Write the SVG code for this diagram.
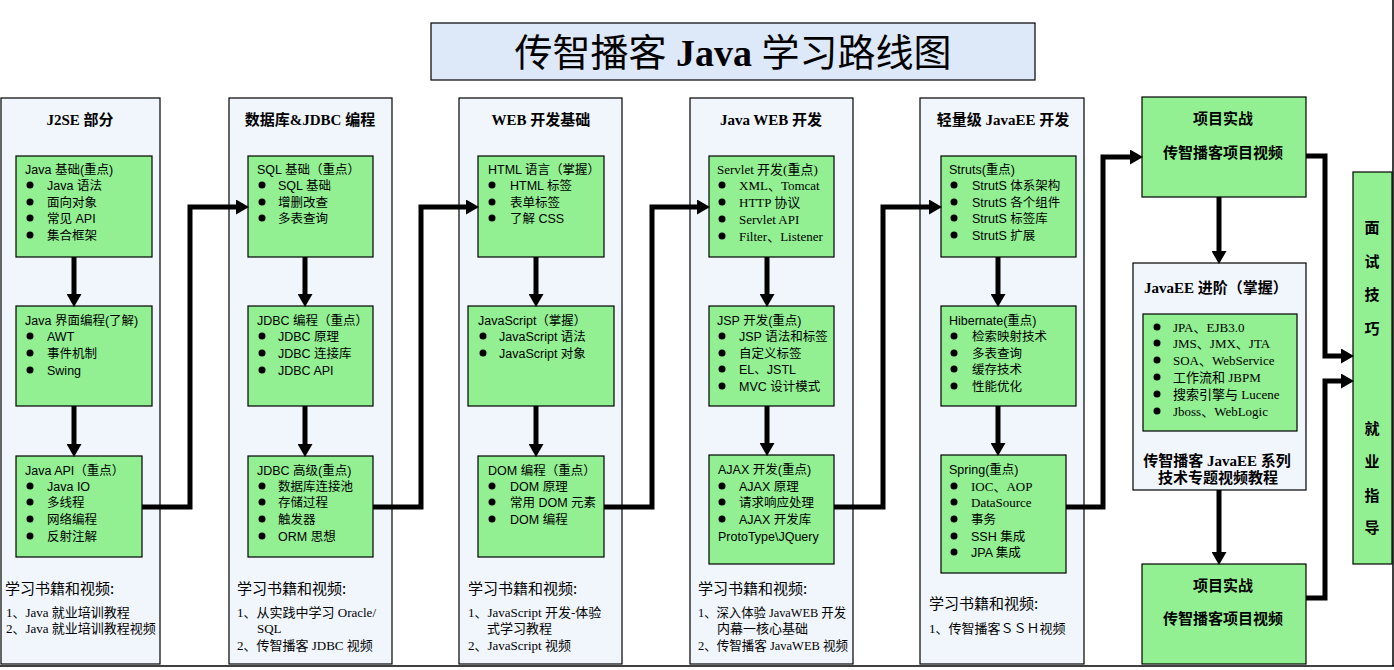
<svg xmlns="http://www.w3.org/2000/svg" width="1394" height="670" viewBox="0 0 1394 670">
<style>
.panel{fill:#f1f6fd;stroke:#000;stroke-width:1.2}
.box{fill:#92ef92;stroke:#000;stroke-width:1.2}
.t{font-family:"Liberation Sans","Noto Sans CJK SC",sans-serif;font-size:12.5px;fill:#000}
.sf{font-family:"Liberation Serif","Noto Sans CJK SC",serif;font-size:13px;fill:#000}
.h{font-family:"Liberation Serif","Noto Sans CJK SC",serif;font-size:15px;font-weight:bold;fill:#000}
.lh{font-family:"Noto Sans CJK SC",sans-serif;font-size:15px;fill:#000}
.li{font-family:"Liberation Serif","Noto Sans CJK SC",serif;font-size:13px;fill:#000}
.b{font-family:"Liberation Serif","Noto Sans CJK SC",serif;font-size:15px;font-weight:bold;fill:#000}
.con{fill:none;stroke:#000;stroke-width:5;stroke-linejoin:miter}
.dot{fill:#000}
</style>
<defs>
<marker id="ah" markerUnits="userSpaceOnUse" markerWidth="13" markerHeight="15" viewBox="0 -7.5 13 15" refX="0" refY="0" orient="auto">
<path d="M0,-7.5 L13,0 L0,7.5 z" fill="#000"/>
</marker>
</defs>
<rect width="1394" height="670" fill="#fff"/>
<line x1="0" y1="666" x2="1394" y2="666" stroke="#000" stroke-width="1.5"/>
<line x1="1393" y1="0" x2="1393" y2="666" stroke="#000" stroke-width="1.5"/>

<g id="title">
<rect x="431" y="23" width="604" height="57" fill="#dde8f8" stroke="#000" stroke-width="1.2"/>
<text x="733" y="66" text-anchor="middle" font-family="Liberation Serif,Noto Sans CJK SC,serif" font-size="38"><tspan font-weight="normal">传智播客 </tspan><tspan font-weight="bold">Java</tspan><tspan font-weight="normal"> 学习路线图</tspan></text>
</g>

<!-- Column 1 -->
<g id="col1">
<rect class="panel" x="1" y="98" width="159" height="566"/>
<text class="h" x="80" y="125" text-anchor="middle">J2SE 部分</text>
<text class="lh" x="5" y="594">学习书籍和视频:</text>
<text class="li" x="6" y="617">1、Java 就业培训教程</text>
<text class="li" x="6" y="633">2、Java 就业培训教程视频</text>
</g>
<g id="c1b1">
<rect class="box" x="16" y="156" width="136" height="101"/>
<text class="t" x="25" y="174">Java 基础(重点)</text>
<circle class="dot" cx="30" cy="185" r="3.5"/><text class="t" x="47" y="190">Java 语法</text>
<circle class="dot" cx="30" cy="202" r="3.5"/><text class="t" x="47" y="207">面向对象</text>
<circle class="dot" cx="30" cy="218" r="3.5"/><text class="t" x="47" y="223">常见 API</text>
<circle class="dot" cx="30" cy="235" r="3.5"/><text class="t" x="47" y="240">集合框架</text>
</g>
<g id="c1b2">
<rect class="box" x="16" y="306" width="136" height="100"/>
<text class="t" x="25" y="325">Java 界面编程(了解)</text>
<circle class="dot" cx="30" cy="336" r="3.5"/><text class="t" x="47" y="341">AWT</text>
<circle class="dot" cx="30" cy="353" r="3.5"/><text class="t" x="47" y="358">事件机制</text>
<circle class="dot" cx="30" cy="370" r="3.5"/><text class="t" x="47" y="375">Swing</text>
</g>
<g id="c1b3">
<rect class="box" x="16" y="456" width="126" height="101"/>
<text class="t" x="25" y="475">Java API（重点）</text>
<circle class="dot" cx="30" cy="486" r="3.5"/><text class="t" x="47" y="491">Java IO</text>
<circle class="dot" cx="30" cy="502" r="3.5"/><text class="t" x="47" y="507">多线程</text>
<circle class="dot" cx="30" cy="519" r="3.5"/><text class="t" x="47" y="524">网络编程</text>
<circle class="dot" cx="30" cy="536" r="3.5"/><text class="t" x="47" y="541">反射注解</text>
</g>

<!-- Column 2 -->
<g id="col2">
<rect class="panel" x="229" y="98" width="163" height="566"/>
<text class="h" x="310" y="125" text-anchor="middle">数据库&amp;JDBC 编程</text>
<text class="lh" x="237" y="594">学习书籍和视频:</text>
<text class="li" x="237" y="617">1、从实践中学习 Oracle/</text>
<text class="li" x="257" y="633">SQL</text>
<text class="li" x="237" y="650">2、传智播客 JDBC 视频</text>
</g>
<g id="c2b1">
<rect class="box" x="248" y="156" width="125" height="101"/>
<text class="t" x="257" y="174">SQL 基础（重点）</text>
<circle class="dot" cx="262" cy="185" r="3.5"/><text class="t" x="278" y="190">SQL 基础</text>
<circle class="dot" cx="262" cy="202" r="3.5"/><text class="t" x="278" y="207">增删改查</text>
<circle class="dot" cx="262" cy="218" r="3.5"/><text class="t" x="278" y="223">多表查询</text>
</g>
<g id="c2b2">
<rect class="box" x="248" y="306" width="125" height="100"/>
<text class="t" x="257" y="325">JDBC 编程（重点）</text>
<circle class="dot" cx="262" cy="336" r="3.5"/><text class="t" x="278" y="341">JDBC 原理</text>
<circle class="dot" cx="262" cy="353" r="3.5"/><text class="t" x="278" y="358">JDBC 连接库</text>
<circle class="dot" cx="262" cy="370" r="3.5"/><text class="t" x="278" y="375">JDBC API</text>
</g>
<g id="c2b3">
<rect class="box" x="248" y="456" width="125" height="101"/>
<text class="t" x="257" y="475">JDBC 高级(重点)</text>
<circle class="dot" cx="262" cy="486" r="3.5"/><text class="t" x="278" y="491">数据库连接池</text>
<circle class="dot" cx="262" cy="502" r="3.5"/><text class="t" x="278" y="507">存储过程</text>
<circle class="dot" cx="262" cy="519" r="3.5"/><text class="t" x="278" y="524">触发器</text>
<circle class="dot" cx="262" cy="536" r="3.5"/><text class="t" x="278" y="541">ORM 思想</text>
</g>

<!-- Column 3 -->
<g id="col3">
<rect class="panel" x="459" y="98" width="163" height="566"/>
<text class="h" x="541" y="125" text-anchor="middle">WEB 开发基础</text>
<text class="lh" x="468" y="594">学习书籍和视频:</text>
<text class="li" x="468" y="617">1、JavaScript 开发-体验</text>
<text class="li" x="487" y="633">式学习教程</text>
<text class="li" x="468" y="650">2、JavaScript 视频</text>
</g>
<g id="c3b1">
<rect class="box" x="478" y="156" width="126" height="101"/>
<text class="t" x="488" y="174">HTML 语言（掌握）</text>
<circle class="dot" cx="492" cy="185" r="3.5"/><text class="t" x="510" y="190">HTML 标签</text>
<circle class="dot" cx="492" cy="202" r="3.5"/><text class="t" x="510" y="207">表单标签</text>
<circle class="dot" cx="492" cy="218" r="3.5"/><text class="t" x="510" y="223">了解 CSS</text>
</g>
<g id="c3b2">
<rect class="box" x="468" y="306" width="146" height="100"/>
<text class="t" x="478" y="325">JavaScript（掌握）</text>
<circle class="dot" cx="483" cy="336" r="3.5"/><text class="t" x="499" y="341">JavaScript 语法</text>
<circle class="dot" cx="483" cy="353" r="3.5"/><text class="t" x="499" y="358">JavaScript 对象</text>
</g>
<g id="c3b3">
<rect class="box" x="478" y="456" width="126" height="101"/>
<text class="t" x="488" y="475">DOM 编程（重点）</text>
<circle class="dot" cx="492" cy="486" r="3.5"/><text class="t" x="510" y="491">DOM 原理</text>
<circle class="dot" cx="492" cy="502" r="3.5"/><text class="t" x="510" y="507">常用 DOM 元素</text>
<circle class="dot" cx="492" cy="519" r="3.5"/><text class="t" x="510" y="524">DOM 编程</text>
</g>

<!-- Column 4 -->
<g id="col4">
<rect class="panel" x="690" y="98" width="163" height="566"/>
<text class="h" x="771" y="125" text-anchor="middle">Java WEB 开发</text>
<text class="lh" x="698" y="594">学习书籍和视频:</text>
<text class="li" x="698" y="617" textLength="148" lengthAdjust="spacingAndGlyphs">1、深入体验 JavaWEB 开发</text>
<text class="li" x="717" y="633">内幕一核心基础</text>
<text class="li" x="698" y="650" textLength="150" lengthAdjust="spacingAndGlyphs">2、传智播客 JavaWEB 视频</text>
</g>
<g id="c4b1">
<rect class="box" x="709" y="156" width="125" height="101"/>
<text class="sf" x="717" y="174">Servlet 开发(重点)</text>
<circle class="dot" cx="722" cy="185" r="3.5"/><text class="sf" x="739" y="190">XML、Tomcat</text>
<circle class="dot" cx="722" cy="202" r="3.5"/><text class="sf" x="739" y="207">HTTP 协议</text>
<circle class="dot" cx="722" cy="219" r="3.5"/><text class="sf" x="739" y="224">Servlet API</text>
<circle class="dot" cx="722" cy="236" r="3.5"/><text class="sf" x="739" y="241">Filter、Listener</text>
</g>
<g id="c4b2">
<rect class="box" x="709" y="306" width="125" height="100"/>
<text class="t" x="717" y="325">JSP 开发(重点)</text>
<circle class="dot" cx="722" cy="336" r="3.5"/><text class="t" x="739" y="341">JSP 语法和标签</text>
<circle class="dot" cx="722" cy="353" r="3.5"/><text class="t" x="739" y="358">自定义标签</text>
<circle class="dot" cx="722" cy="369" r="3.5"/><text class="t" x="739" y="374">EL、JSTL</text>
<circle class="dot" cx="722" cy="386" r="3.5"/><text class="t" x="739" y="391">MVC 设计模式</text>
</g>
<g id="c4b3">
<rect class="box" x="709" y="455" width="125" height="109"/>
<text class="t" x="718" y="474">AJAX 开发(重点)</text>
<circle class="dot" cx="722" cy="486" r="3.5"/><text class="t" x="739" y="491">AJAX 原理</text>
<circle class="dot" cx="722" cy="502" r="3.5"/><text class="t" x="739" y="507">请求响应处理</text>
<circle class="dot" cx="722" cy="519" r="3.5"/><text class="t" x="739" y="524">AJAX 开发库</text>
<text class="t" x="718" y="541">ProtoType\JQuery</text>
</g>

<!-- Column 5 -->
<g id="col5">
<rect class="panel" x="920" y="98" width="164" height="566"/>
<text class="h" x="1003" y="125" text-anchor="middle">轻量级 JavaEE 开发</text>
<text class="lh" x="929" y="609">学习书籍和视频:</text>
<text class="li" x="929" y="633">1、传智播客ＳＳＨ视频</text>
</g>
<g id="c5b1">
<rect class="box" x="941" y="156" width="135" height="101"/>
<text class="t" x="949" y="174">Struts(重点)</text>
<circle class="dot" cx="954" cy="185" r="3.5"/><text class="t" x="972" y="190">StrutS 体系架构</text>
<circle class="dot" cx="954" cy="202" r="3.5"/><text class="t" x="972" y="207">StrutS 各个组件</text>
<circle class="dot" cx="954" cy="218" r="3.5"/><text class="t" x="972" y="223">StrutS 标签库</text>
<circle class="dot" cx="954" cy="235" r="3.5"/><text class="t" x="972" y="240">StrutS 扩展</text>
</g>
<g id="c5b2">
<rect class="box" x="941" y="306" width="135" height="100"/>
<text class="t" x="949" y="325">Hibernate(重点)</text>
<circle class="dot" cx="954" cy="336" r="3.5"/><text class="t" x="972" y="341">检索映射技术</text>
<circle class="dot" cx="954" cy="353" r="3.5"/><text class="t" x="972" y="358">多表查询</text>
<circle class="dot" cx="954" cy="369" r="3.5"/><text class="t" x="972" y="374">缓存技术</text>
<circle class="dot" cx="954" cy="386" r="3.5"/><text class="t" x="972" y="391">性能优化</text>
</g>
<g id="c5b3">
<rect class="box" x="941" y="455" width="125" height="118"/>
<text class="t" x="949" y="474">Spring(重点)</text>
<circle class="dot" cx="954" cy="486" r="3.5"/><text class="sf" x="971" y="491">IOC、AOP</text>
<circle class="dot" cx="954" cy="502" r="3.5"/><text class="sf" x="971" y="507">DataSource</text>
<circle class="dot" cx="954" cy="519" r="3.5"/><text class="t" x="971" y="524">事务</text>
<circle class="dot" cx="954" cy="536" r="3.5"/><text class="t" x="971" y="541">SSH 集成</text>
<circle class="dot" cx="954" cy="552" r="3.5"/><text class="t" x="971" y="557">JPA 集成</text>
</g>

<!-- Column 6 -->
<g id="proj1">
<rect class="box" x="1142" y="97" width="164" height="100"/>
<text class="b" x="1223" y="124" text-anchor="middle">项目实战</text>
<text class="b" x="1223" y="158" text-anchor="middle">传智播客项目视频</text>
</g>
<g id="javaee">
<rect class="panel" x="1133" y="263" width="173" height="227"/>
<text class="b" x="1216" y="293" text-anchor="middle" font-size="16">JavaEE 进阶（掌握）</text>
<rect class="box" x="1143" y="314" width="154" height="117"/>
<circle class="dot" cx="1157" cy="327" r="3.5"/><text class="sf" x="1173" y="332">JPA、EJB3.0</text>
<circle class="dot" cx="1157" cy="343" r="3.5"/><text class="sf" x="1173" y="348">JMS、JMX、JTA</text>
<circle class="dot" cx="1157" cy="360" r="3.5"/><text class="sf" x="1173" y="365">SOA、WebService</text>
<circle class="dot" cx="1157" cy="377" r="3.5"/><text class="sf" x="1173" y="382">工作流和 JBPM</text>
<circle class="dot" cx="1157" cy="394" r="3.5"/><text class="sf" x="1173" y="399">搜索引擎与 Lucene</text>
<circle class="dot" cx="1157" cy="411" r="3.5"/><text class="sf" x="1173" y="416">Jboss、WebLogic</text>
<text class="b" x="1217" y="466" text-anchor="middle" font-size="14">传智播客 JavaEE 系列</text>
<text class="b" x="1218" y="483" text-anchor="middle" font-size="14">技术专题视频教程</text>
</g>
<g id="proj2">
<rect class="box" x="1142" y="564" width="164" height="100"/>
<text class="b" x="1223" y="591" text-anchor="middle">项目实战</text>
<text class="b" x="1223" y="624" text-anchor="middle">传智播客项目视频</text>
</g>
<g id="career">
<rect class="box" x="1353" y="172" width="39" height="392"/>
<text class="b" x="1372" y="233" text-anchor="middle">面</text>
<text class="b" x="1372" y="267" text-anchor="middle">试</text>
<text class="b" x="1372" y="300" text-anchor="middle">技</text>
<text class="b" x="1372" y="334" text-anchor="middle">巧</text>
<text class="b" x="1372" y="434" text-anchor="middle">就</text>
<text class="b" x="1372" y="467" text-anchor="middle">业</text>
<text class="b" x="1372" y="501" text-anchor="middle">指</text>
<text class="b" x="1372" y="533" text-anchor="middle">导</text>
</g>

<g id="connectors">
<path class="con" marker-end="url(#ah)" d="M74,257 V294"/>
<path class="con" marker-end="url(#ah)" d="M74,406 V444"/>
<path class="con" marker-end="url(#ah)" d="M305,257 V294"/>
<path class="con" marker-end="url(#ah)" d="M305,406 V444"/>
<path class="con" marker-end="url(#ah)" d="M536,257 V294"/>
<path class="con" marker-end="url(#ah)" d="M536,406 V444"/>
<path class="con" marker-end="url(#ah)" d="M767,257 V294"/>
<path class="con" marker-end="url(#ah)" d="M767,406 V443"/>
<path class="con" marker-end="url(#ah)" d="M998,257 V294"/>
<path class="con" marker-end="url(#ah)" d="M998,406 V443"/>
<path class="con" marker-end="url(#ah)" d="M1219,197 V251"/>
<path class="con" marker-end="url(#ah)" d="M1219,490 V552"/>
<path class="con" marker-end="url(#ah)" d="M142,507 H190 V207 H236"/>
<path class="con" marker-end="url(#ah)" d="M373,507 H421 V207 H466"/>
<path class="con" marker-end="url(#ah)" d="M604,507 H652 V207 H697"/>
<path class="con" marker-end="url(#ah)" d="M834,507 H883 V207 H929"/>
<path class="con" marker-end="url(#ah)" d="M1066,507 H1103 V157 H1130"/>
<path class="con" marker-end="url(#ah)" d="M1306,156 H1325 V356 H1341"/>
<path class="con" marker-end="url(#ah)" d="M1306,598 H1325 V381 H1341"/>
</g>
</svg>
